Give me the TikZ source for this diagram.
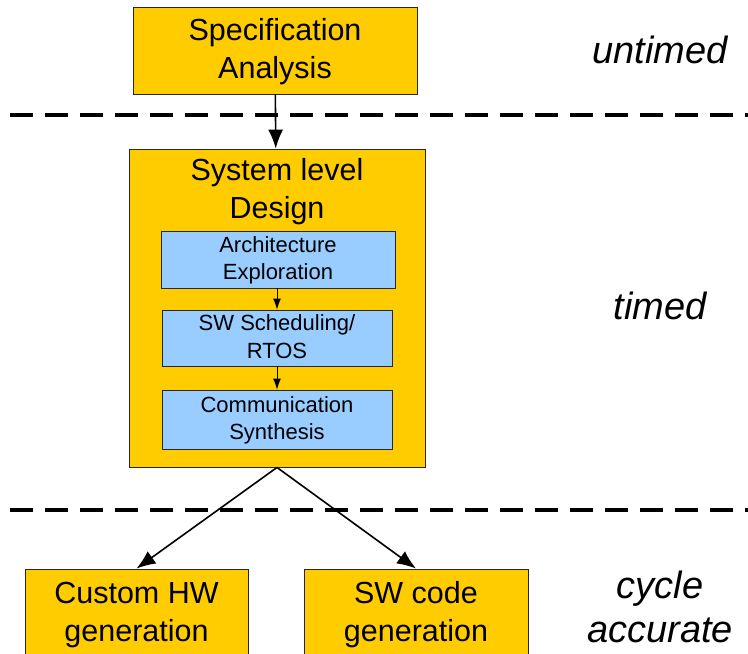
\documentclass[tikz,border=0pt]{standalone}
\usepackage{fontspec}
\setmainfont{Liberation Sans}
\usetikzlibrary{arrows.meta}
\definecolor{stagefill}{HTML}{FFCC00}
\definecolor{taskfill}{HTML}{99CCFF}
\begin{document}
\begin{tikzpicture}[x=1pt, y=-1pt,
		stage/.style={draw=black!85, fill=stagefill, line width=0.9pt, align=center, inner sep=0pt, font=\fontsize{30.5}{38}\selectfont},
		task/.style={draw=black!85, fill=taskfill, line width=0.9pt, align=center, inner sep=0pt, font=\fontsize{22}{27.5}\selectfont},
		level/.style={align=center, font=\fontsize{38}{44}\selectfont\itshape},
		cut/.style={line width=3.5pt, dash pattern=on 23pt off 12pt},
		flow/.style={-{Latex[length=19pt, width=15pt]}, line width=1.6pt},
		subflow/.style={-{Latex[length=11pt, width=8pt]}, line width=1pt}]
		\useasboundingbox (0,0) rectangle (748,654);
		
		%abstraction levels
		\draw[cut] (10,115) -- (748,115);
		\draw[cut] (10,510) -- (748,510);
		\node[level] (untimed) at (660,50){untimed};
		\node[level] (timed) at (660,306){timed};
		\node[level] (cycleacc) at (660,607){cycle\\accurate};
		
		%design flow
		\node[stage, minimum width=284pt, minimum height=87pt, text depth=4pt] (spec) at (275,50.5){Specification\\Analysis};
		\node[stage, minimum width=296pt, minimum height=318pt] (sld) at (277,308){};
		\node[align=center, font=\fontsize{30.5}{38}\selectfont] (sldtitle) at (277,192){System level\\Design};
		\node[task, minimum width=234pt, minimum height=57pt, text depth=3pt] (arch) at (278,259.5){Architecture\\Exploration};
		\node[task, minimum width=230pt, minimum height=56pt, text depth=3pt] (sched) at (277,338){SW Scheduling/\\RTOS};
		\node[task, minimum width=230pt, minimum height=59pt, text depth=3pt] (comm) at (277,419.5){Communication\\Synthesis};
		\node[stage, minimum width=223pt, minimum height=92pt] (hwgen) at (136.5,615){Custom HW\\generation};
		\node[stage, minimum width=224pt, minimum height=92pt] (swgen) at (416,615){SW code\\generation};
		
		\draw[flow] (spec) -- (sld);
		\draw[subflow] (arch.south -| sched) -- (sched);
		\draw[subflow] (sched) -- (comm);
		\draw[flow] (sld.south) -- (hwgen.north);
		\draw[flow] (sld.south) -- (swgen.north);
		\end{tikzpicture}
\end{document}
